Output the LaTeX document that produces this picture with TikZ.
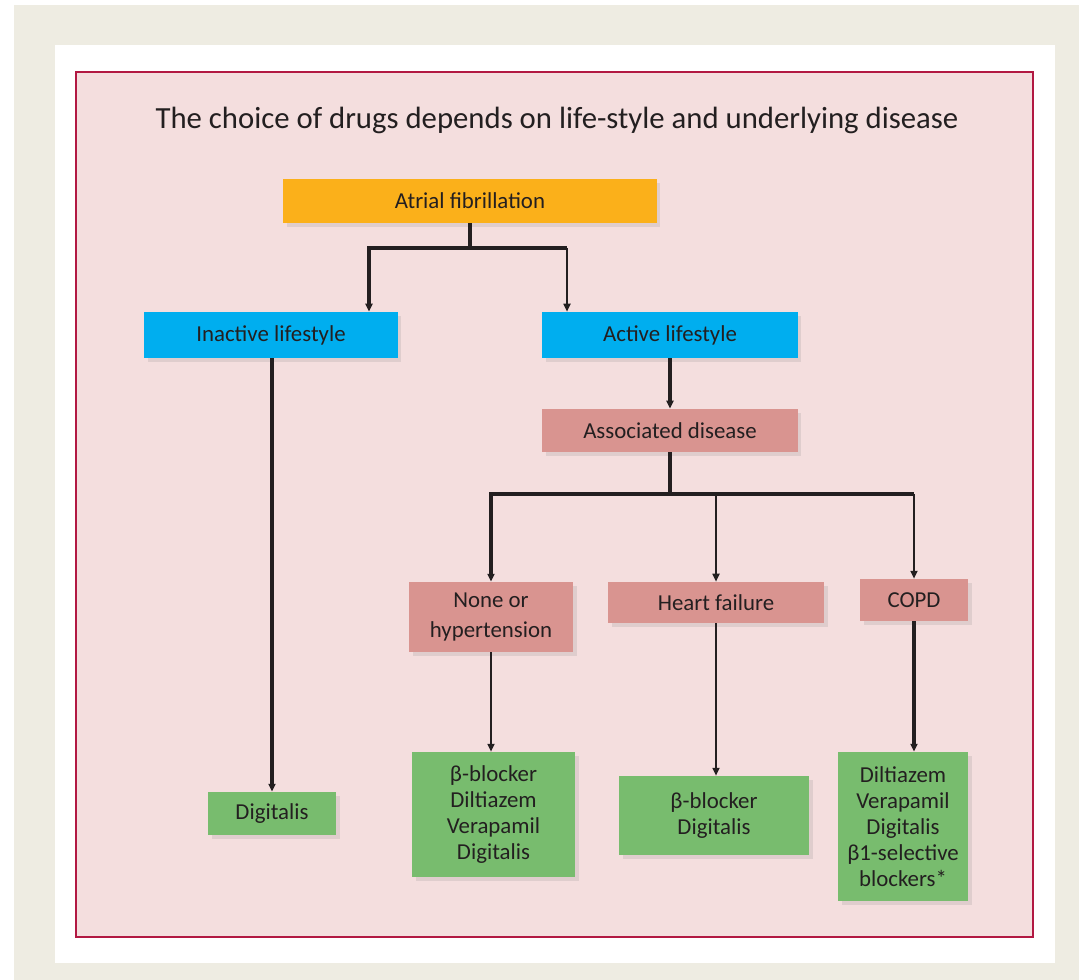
\documentclass[tikz,border=0pt]{standalone}
\usepackage{fontspec}
\setmainfont{Carlito}
\usetikzlibrary{arrows.meta, positioning, shadows}
\definecolor{FillPage}{RGB}{238, 236, 226}
\definecolor{FillPanel}{RGB}{244, 222, 222}
\definecolor{BorderPanel}{RGB}{178, 24, 66}
\definecolor{FillStart}{RGB}{251, 176, 26}
\definecolor{FillLife}{RGB}{0, 174, 239}
\definecolor{FillDisease}{RGB}{217, 148, 144}
\definecolor{FillDrug}{RGB}{120, 188, 110}
\definecolor{InkColor}{RGB}{35, 31, 32}

\begin{document}
\begin{tikzpicture}[
        x=0.02cm, y=-0.02cm,
        % Styles globaux
        base/.style={align=center, text=InkColor, inner sep=0pt, font=\fontsize{13}{15}\selectfont, drop shadow={shadow xshift=2pt, shadow yshift=-2pt, opacity=0.18}},
        % Style "Départ" (Haut)
        box_start/.style={base, fill=FillStart},
        % Style "Mode de vie"
        box_life/.style={base, fill=FillLife},
        % Style "Maladie"
        box_disease/.style={base, fill=FillDisease, font=\fontsize{13}{17}\selectfont},
        % Style "Médicaments" (Bas)
        box_drug/.style={base, fill=FillDrug, font=\fontsize{13}{14.8}\selectfont},
        % Style des traits et flèches
        bar/.style={line width=2.3pt, InkColor},
        fine/.style={line width=0.9pt, InkColor},
        tip/.style={-{Triangle[length=4.5pt, width=4pt]}}
    ]

    % --- FOND ---
    \fill[white] (0,0) rectangle (1079,980);
    \fill[FillPage] (14,5) rectangle (1079,980);
    \fill[white] (55,45) rectangle (1055,963);
    \draw[BorderPanel, fill=FillPanel, line width=1.3pt] (76,72) rectangle (1033,937);

    % --- TITRE ---
    \node[text=InkColor, font=\fontsize{17.5}{20}\selectfont] (title) at (557,120) {The choice of drugs depends on life-style and underlying disease};

    % --- NIVEAU 1 ---
    \node[box_start, minimum width=7.48cm, minimum height=0.88cm] (af) at (470,201) {Atrial fibrillation};

    % --- NIVEAU 2 ---
    \node[box_life, minimum width=5.08cm, minimum height=0.92cm] (inact) at (271,335) {Inactive lifestyle};
    \node[box_life, minimum width=5.12cm, minimum height=0.92cm] (act) at (670,335) {Active lifestyle};
    \node[box_disease, minimum width=5.12cm, minimum height=0.86cm] (assoc) at (670,430.5) {Associated disease};

    % --- NIVEAU 3 ---
    \node[box_disease, minimum width=3.28cm, minimum height=1.4cm] (none) at (491,617) {None or\\hypertension};
    \node[box_disease, minimum width=4.32cm, minimum height=0.82cm] (hf) at (716,602.5) {Heart failure};
    \node[box_disease, minimum width=2.16cm, minimum height=0.84cm] (copd) at (914,600) {COPD};

    % --- MÉDICAMENTS ---
    \node[box_drug, minimum width=2.56cm, minimum height=0.86cm] (dig) at (272,813.5) {Digitalis};
    \node[box_drug, minimum width=3.26cm, minimum height=2.5cm] (drugsnone) at (493.5,814.5) {β-blocker\\Diltiazem\\Verapamil\\Digitalis};
    \node[box_drug, minimum width=3.8cm, minimum height=1.58cm] (drugshf) at (714,815.5) {β-blocker\\Digitalis};
    \node[box_drug, minimum width=2.6cm, minimum height=2.98cm] (drugscopd) at (903,826.5) {Diltiazem\\Verapamil\\Digitalis\\β1-selective\\blockers*};

    % --- EMBRANCHEMENTS ---
    \coordinate (fork1) at (470,248);
    \coordinate (fork1l) at (369,248);
    \coordinate (fork1r) at (567,248);
    \coordinate (fork2) at (670,494);

    % --- FLÈCHES ---
    \draw[bar] (af) -- (fork1);
    \draw[bar, tip] (fork1r) -- (fork1l) -- (fork1l |- inact.north);
    \draw[fine, tip] (fork1r) -- (fork1r |- act.north);
    \draw[bar, tip] (act) -- (assoc);
    \draw[bar] (assoc) -- (fork2);
    \draw[bar, tip] (copd.north |- fork2) -- (none.north |- fork2) -- (none);
    \draw[fine, tip] (hf.north |- fork2) -- (hf);
    \draw[fine, tip] (copd.north |- fork2) -- (copd);
    \draw[bar, tip] (dig.north |- inact.south) -- (dig);
    \draw[fine, tip] (none.south) -- (none.south |- drugsnone.north);
    \draw[fine, tip] (hf.south) -- (hf.south |- drugshf.north);
    \draw[bar, tip] (copd.south) -- (copd.south |- drugscopd.north);

\end{tikzpicture}
\end{document}
